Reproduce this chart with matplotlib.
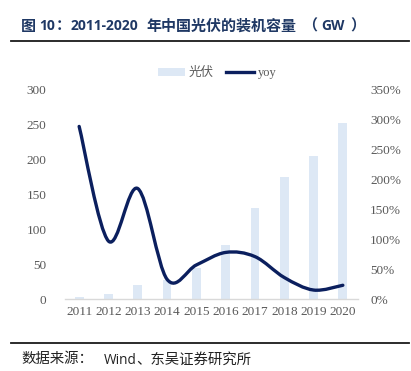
import matplotlib
matplotlib.use("Agg")
import matplotlib.pyplot as plt
from matplotlib.path import Path
from matplotlib.patches import PathPatch, Patch
from matplotlib.lines import Line2D
import numpy as np

years = ["2011", "2012", "2013", "2014", "2015", "2016", "2017", "2018", "2019", "2020"]
capacity = [3.3, 7.0, 19.6, 27.5, 45.0, 77.5, 131.0, 175.5, 205.0, 253.0]
yoy = [289, 97, 185, 33, 57, 78, 71, 36, 15, 23]
left_ticks = [0, 50, 100, 150, 200, 250, 300]
right_ticks = [0, 50, 100, 150, 200, 250, 300, 350]

BAR_C = "#DDE8F5"
LINE_C = "#0B1F5E"
TICK_C = "#595959"
TITLE_C = "#1F3864"
SERIF = ["Liberation Serif", "DejaVu Serif"]
CJK = ["Noto Sans CJK SC", "DejaVu Sans"]
LATIN = ["Open Sans", "DejaVu Sans"]
W, H = 411, 371

fig = plt.figure(figsize=(4.11, 3.71), dpi=100)
ax = fig.add_axes([64.5 / W, 1 - 299 / H, 293 / W, 209 / H])
x = np.arange(len(years))
ax.bar(x, capacity, width=0.3, color=BAR_C, zorder=1)
ax.set_xlim(-0.5, len(years) - 0.5)
ax.set_ylim(0, 300)
ax.set_yticks(left_ticks)
ax.set_yticklabels([str(t) for t in left_ticks], family=SERIF, fontsize=9.5, color=TICK_C)
ax.set_xticks(x)
ax.set_xticklabels(years, family=SERIF, fontsize=9.5, color=TICK_C)
ax.tick_params(axis="both", length=0)
ax.tick_params(axis="y", pad=13)
ax.tick_params(axis="x", pad=5)
for s in ["top", "right", "left"]:
    ax.spines[s].set_visible(False)
ax.spines["bottom"].set_color("#D9D9D9")
ax.spines["bottom"].set_linewidth(1.0)

ax2 = ax.twinx()
ax2.set_ylim(0, 350)
ax2.set_yticks(right_ticks)
ax2.set_yticklabels([f"{t}%" for t in right_ticks], family=SERIF, fontsize=9.5, color=TICK_C)
ax2.tick_params(axis="y", length=0, pad=9)
for s in ax2.spines.values():
    s.set_visible(False)

# smoothed line (Excel-like bezier through the data points)
px = np.arange(len(yoy), dtype=float)
py = np.array(yoy, dtype=float)
verts = [(px[0], py[0])]
codes = [Path.MOVETO]
n = len(px)
for i in range(n - 1):
    p0 = (px[max(i - 1, 0)], py[max(i - 1, 0)])
    p1 = (px[i], py[i])
    p2 = (px[i + 1], py[i + 1])
    p3 = (px[min(i + 2, n - 1)], py[min(i + 2, n - 1)])
    c1 = (p1[0] + (p2[0] - p0[0]) / 6, p1[1] + (p2[1] - p0[1]) / 6)
    c2 = (p2[0] - (p3[0] - p1[0]) / 6, p2[1] - (p3[1] - p1[1]) / 6)
    verts += [c1, c2, p2]
    codes += [Path.CURVE4] * 3
ax2.add_patch(PathPatch(Path(verts, codes), facecolor="none", edgecolor=LINE_C,
                        linewidth=2.4, capstyle="round", joinstyle="round", zorder=3))

handles = [Patch(facecolor=BAR_C, edgecolor="none"), Line2D([0], [0], color=LINE_C, lw=2.4)]
leg = fig.legend(handles, ["光伏", "yoy"], loc="center", bbox_to_anchor=(217 / W, 1 - 73 / H),
                 ncol=2, frameon=False, handlelength=2.2, handleheight=0.6,
                 columnspacing=1.0, handletextpad=0.3,
                 prop={"family": ["Liberation Serif", "Noto Sans CJK SC"], "size": 9})
for t in leg.get_texts():
    t.set_color(TICK_C)


def put(s, xp, yb, **kw):
    fig.text(xp / W, 1 - yb / H, s, ha="left", va="baseline", **kw)


# title
TB = 30.5
tk = dict(family=CJK, fontsize=10.8, fontweight="bold", color=TITLE_C)
lk = dict(family=LATIN, fontsize=10, fontweight="bold", color=TITLE_C)
put("图", 21, TB, **tk)
put("10", 39, TB, **lk)
put("：", 56, TB, **tk)
put("2011-2020", 71, TB, **lk)
put("年中国光伏的装机容量", 146, TB, **tk)
put("（", 302, TB, **tk)
put("GW", 321, TB, **lk)
put("）", 350, TB, **tk)

fig.add_artist(Line2D([11 / W, 409 / W], [1 - 41 / H, 1 - 41 / H], color="#1a1a1a", lw=1.3))
fig.add_artist(Line2D([11 / W, 409 / W], [1 - 343 / H, 1 - 343 / H], color="#1a1a1a", lw=1.3))

# source
SB = 363.5
sk = dict(family=CJK, fontsize=10.4, color="#222222")
put("数据来源：", 21, SB, **sk)
put("Wind", 104, SB, family=LATIN, fontsize=9.8, color="#222222")
put("、东吴证券研究所", 136, SB, **sk)

fig.savefig("out.png", dpi=100)
